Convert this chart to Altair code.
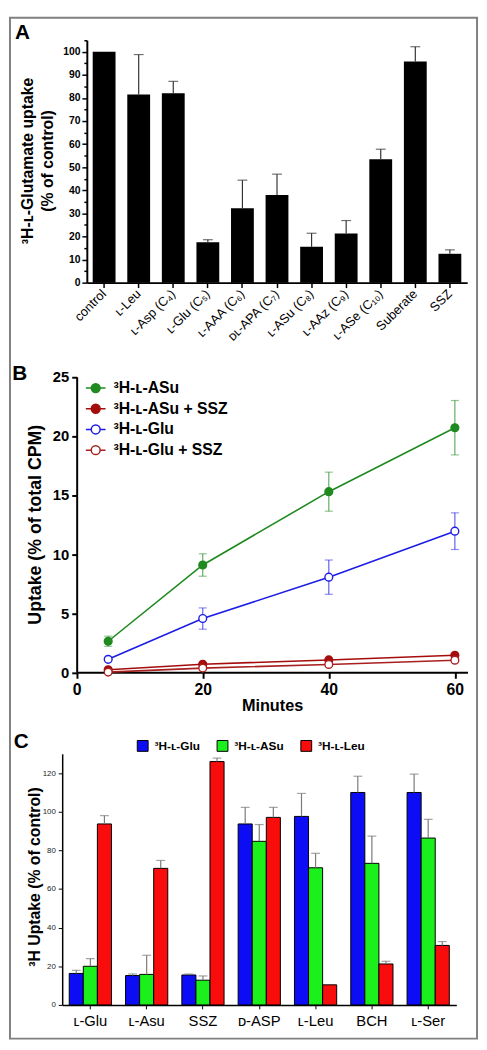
import altair as alt
import pandas as pd

FONT = "Liberation Sans, Arial, Helvetica, sans-serif"

# ---------------- Panel A data ----------------
a_categories = ["control", "ʟ-Leu", "ʟ-Asp (C₄)", "ʟ-Glu (C₅)", "ʟ-AAA (C₆)",
                "ᴅʟ-APA (C₇)", "ʟ-ASu (C₈)", "ʟ-AAz (C₉)", "ʟ-ASe (C₁₀)",
                "Suberate", "SSZ"]
a_values = [100, 81.5, 82, 17.5, 32.2, 38, 15.5, 21.3, 53.5, 95.8, 12.5]
a_upper = [None, 98.8, 87.2, 18.6, 44.4, 47, 21.4, 26.9, 57.8, 102.2, 14.2]

# ---------------- Panel B data ----------------
b_minutes = [5, 20, 40, 60]
b_series = ["³H-ʟ-ASu", "³H-ʟ-ASu + SSZ", "³H-ʟ-Glu", "³H-ʟ-Glu + SSZ"]
b_asu = [2.63, 9.08, 15.28, 20.69]
b_asu_err = [0.43, 0.95, 1.65, 2.3]
b_asu_ssz = [0.22, 0.69, 1.05, 1.44]
b_asu_ssz_err = [0, 0, 0, 0]
b_glu = [1.1, 4.55, 8.05, 11.94]
b_glu_err = [0, 0.9, 1.45, 1.55]
b_glu_ssz = [0.02, 0.36, 0.67, 1.03]
b_glu_ssz_err = [0, 0, 0, 0]
b_stroke_colors = ["#1f8a1f", "#a50d0d", "#1c1ce6", "#a82020"]
b_fill_colors = ["#1f8a1f", "#a50d0d", "#ffffff", "#ffffff"]

# ---------------- Panel C data ----------------
c_groups = ["ʟ-Glu", "ʟ-Asu", "SSZ", "ᴅ-ASP", "ʟ-Leu", "BCH", "ʟ-Ser"]
c_series = ["³H-ʟ-Glu", "³H-ʟ-ASu", "³H-ʟ-Leu"]
c_glu = [16.3, 15.2, 15.5, 93.7, 97.6, 110, 110]
c_glu_up = [17.9, 16, 16, 102.3, 109.5, 118.4, 119.5]
c_asu = [20, 15.8, 12.8, 84.7, 71, 73.3, 86.4]
c_asu_up = [24, 25.7, 15, 93.4, 78.5, 87.4, 96.1]
c_leu = [93.7, 70.7, 126, 97.1, 10.4, 21.2, 30.8]
c_leu_up = [98, 74.8, 127.8, 102.3, None, 22.6, 32.8]
c_colors = ["#0c0cf5", "#1cf01c", "#f80c0c"]

# ================= Panel A =================
dfA = pd.DataFrame({"cat": a_categories, "val": a_values, "up": a_upper})
xA = alt.X("cat:N", sort=a_categories, title=None,
           scale=alt.Scale(range=[25, 411], paddingInner=0.34, paddingOuter=0.17),
           axis=alt.Axis(labelAngle=315, labelAlign="right", labelBaseline="middle",
                         labelFontSize=13, labelColor="black", labelPadding=4,
                         labelLimit=300, domainColor="black", domainWidth=2,
                         tickColor="black", tickWidth=1.5, tickSize=5))
yA_scale = alt.Scale(domain=[0, 105], nice=False)

barsA = alt.Chart(dfA).mark_bar(color="black").encode(
    x=xA,
    y=alt.Y("val:Q", scale=yA_scale,
            axis=alt.Axis(orient="left", offset=-25, values=list(range(0, 101, 10)),
                          labelFontSize=10.5, labelFontWeight="bold", labelColor="black",
                          labelPadding=2, tickSize=5, tickWidth=1.5, tickColor="black",
                          domainWidth=2, domainColor="black",
                          title=["³H-ʟ-Glutamate uptake", "(% of control)"],
                          titleFontSize=16, titleFontWeight="bold", titleColor="black",
                          titleAngle=270, titleBaseline="middle", titleAlign="center",
                          titleX=-60, titleY=122, titleLineHeight=20)),
)
errA = alt.Chart(dfA).transform_filter("isValid(datum.up)").mark_rule(
    color="#333333", strokeWidth=1.2).encode(
    x=xA,
    y=alt.Y("val:Q", scale=yA_scale,
            axis=alt.Axis(orient="left", offset=-25, values=list(range(5, 106, 10)),
                          labels=False, domain=False, tickSize=3, tickWidth=1.5,
                          tickColor="black", title=None)),
    y2="up:Q",
)
capsA = alt.Chart(dfA).transform_filter("isValid(datum.up)").mark_tick(
    color="#333333", size=10, thickness=1.2, orient="horizontal").encode(
    x=xA, y=alt.Y("up:Q", scale=yA_scale, axis=None))

border = alt.Chart(pd.DataFrame({"b": [0]})).mark_rect(
    fill="transparent", stroke="#808080", strokeWidth=2).encode(
    x=alt.value(-53), x2=alt.value(421), y=alt.value(-22.8), y2=alt.value(1013.2))

labA = alt.Chart(pd.DataFrame({"t": ["A"]})).mark_text(
    font=FONT, fontSize=21, fontWeight="bold", color="black", align="center",
    baseline="middle").encode(text="t:N", x=alt.value(-40.3), y=alt.value(-6.8))

panelA = alt.layer(border, barsA, errA, capsA, labA).resolve_axis(
    y="independent").properties(width=411, height=246)

# ================= Panel B =================
rowsB = []
for s, vals, errs in zip(b_series, [b_asu, b_asu_ssz, b_glu, b_glu_ssz],
                         [b_asu_err, b_asu_ssz_err, b_glu_err, b_glu_ssz_err]):
    for m, v, e in zip(b_minutes, vals, errs):
        rowsB.append({"series": s, "min": m, "val": v, "err": e,
                      "lo": v - e, "hi": v + e})
dfB = pd.DataFrame(rowsB)

xB = alt.X("min:Q", scale=alt.Scale(domain=[0, 62], range=[14.7, 411.3], nice=False),
           axis=alt.Axis(values=[0, 20, 40, 60], labelFontSize=16, labelFontWeight="bold",
                         labelColor="black", labelPadding=3, labelFlush=False,
                         tickSize=6, tickWidth=2, tickColor="black",
                         domainWidth=2, domainColor="black",
                         title="Minutes", titleFontSize=16.5, titleFontWeight="bold",
                         titleColor="black", titleX=213, titleY=33.7,
                         titleBaseline="middle", titleAlign="center"))
yB_scale = alt.Scale(domain=[0, 25], range=[395.5, 95.5], nice=False)
yB = alt.Y("val:Q", scale=yB_scale,
           axis=alt.Axis(orient="left", offset=-14.7, values=[0, 5, 10, 15, 20, 25],
                         labelFontSize=15, labelFontWeight="bold", labelColor="black",
                         labelPadding=3, tickSize=5, tickWidth=2, tickColor="black",
                         domainWidth=2, domainColor="black",
                         title="Uptake (% of total CPM)", titleFontSize=18,
                         titleFontWeight="bold", titleColor="black", titleAngle=270,
                         titleBaseline="middle", titleAlign="center",
                         titleX=-41.7, titleY=245.2))
strokeScaleB = alt.Scale(domain=b_series, range=b_stroke_colors)
fillScaleB = alt.Scale(domain=b_series, range=b_fill_colors)

legB = alt.Legend(
    title=None, orient="none", legendX=23, legendY=96, direction="vertical",
    symbolType="M-1,0H-0.45M0.45,0H1M-0.45,0A0.45,0.45,0,1,0,0.45,0A0.45,0.45,0,1,0,-0.45,0Z",
    symbolSize=400, symbolStrokeWidth=1.5, symbolOpacity=1, labelFont=FONT,
    labelFontSize=16, labelFontWeight="bold", labelColor="black", labelOffset=7,
    rowPadding=2, padding=0, labelLimit=300)

lineB = alt.Chart(dfB).mark_line(strokeWidth=1.6).encode(
    x=xB, y=yB,
    stroke=alt.Stroke("series:N", sort=b_series, scale=strokeScaleB, legend=None))
dfBerr = dfB[dfB["err"] > 0]
errB = alt.Chart(dfBerr).mark_rule(strokeWidth=1.2, strokeOpacity=0.7).encode(
    x=xB, y=alt.Y("lo:Q", scale=yB_scale, axis=None), y2="hi:Q",
    stroke=alt.Stroke("series:N", sort=b_series, scale=strokeScaleB, legend=None))
capsB = alt.Chart(dfBerr).transform_fold(["lo", "hi"], as_=["k", "cap"]).mark_tick(
    orient="horizontal", size=7, thickness=0.01, filled=False, strokeWidth=1.2,
    strokeOpacity=0.7).encode(
    x=xB, y=alt.Y("cap:Q", scale=yB_scale, axis=None),
    stroke=alt.Stroke("series:N", sort=b_series, scale=strokeScaleB, legend=None))
pointsB = alt.Chart(dfB).mark_point(shape="circle", size=62, strokeWidth=1.4,
                                    opacity=1).encode(
    x=xB, y=alt.Y("val:Q", scale=yB_scale, axis=None),
    stroke=alt.Stroke("series:N", sort=b_series, scale=strokeScaleB, legend=legB),
    fill=alt.Fill("series:N", sort=b_series, scale=fillScaleB, legend=legB))
labB = alt.Chart(pd.DataFrame({"t": ["B"]})).mark_text(
    font=FONT, fontSize=21, fontWeight="bold", color="black", align="center",
    baseline="middle").encode(text="t:N", x=alt.value(-43), y=alt.value(93.2))

panelB = alt.layer(lineB, errB, capsB, pointsB, labB).resolve_axis(
    y="independent").resolve_legend(stroke="independent", fill="independent").properties(
    width=412, height=395.5)

# ================= Panel C =================
rowsC = []
for s, vals, ups in zip(c_series, [c_glu, c_asu, c_leu], [c_glu_up, c_asu_up, c_leu_up]):
    for g, v, u in zip(c_groups, vals, ups):
        rowsC.append({"grp": g, "series": s, "val": v, "up": u})
dfC = pd.DataFrame(rowsC)

xC = alt.X("grp:N", sort=c_groups, title=None,
           scale=alt.Scale(paddingInner=0.25, paddingOuter=0.125),
           axis=alt.Axis(labelAngle=0, labelFontSize=15, labelColor="black",
                         labelPadding=5, tickSize=4, tickColor="black", tickWidth=1,
                         domainColor="black", domainWidth=1.5))
xOffC = alt.XOffset("series:N", sort=c_series,
                    scale=alt.Scale(paddingInner=0, paddingOuter=0))
yC_scale = alt.Scale(domain=[0, 130], range=[337, 82.2], nice=False)

legC = alt.Legend(title=None, orient="none", direction="horizontal", legendX=75.7,
                  legendY=67.9, symbolType="square", symbolSize=121,
                  symbolStrokeColor="black", symbolStrokeWidth=1, labelFont=FONT,
                  labelFontSize=12, labelFontWeight="bold", labelColor="black",
                  labelOffset=6, columnPadding=14, padding=0)

barsC = alt.Chart(dfC).mark_bar(stroke="black", strokeWidth=1).encode(
    x=xC, xOffset=xOffC,
    y=alt.Y("val:Q", scale=yC_scale,
            axis=alt.Axis(orient="left", values=list(range(0, 121, 20)),
                          labelFontSize=8, labelColor="#222222", labelPadding=3,
                          tickSize=4, tickWidth=1, tickColor="black",
                          domainWidth=1.5, domainColor="black",
                          title="³H Uptake (% of control)", titleFontSize=16,
                          titleFontWeight="bold", titleColor="black", titleAngle=270,
                          titleBaseline="middle", titleAlign="center",
                          titleX=-28.5, titleY=206.7)),
    color=alt.Color("series:N", sort=c_series,
                    scale=alt.Scale(domain=c_series, range=c_colors), legend=legC))
errC = alt.Chart(dfC).transform_filter("isValid(datum.up)").mark_rule(
    color="#7a7a7a", strokeWidth=1.2).encode(
    x=xC, xOffset=xOffC, y=alt.Y("val:Q", scale=yC_scale, axis=None), y2="up:Q")
capsC = alt.Chart(dfC).transform_filter("isValid(datum.up)").mark_tick(
    color="#7a7a7a", size=9, thickness=1.2, orient="horizontal").encode(
    x=xC, xOffset=xOffC, y=alt.Y("up:Q", scale=yC_scale, axis=None))
labC = alt.Chart(pd.DataFrame({"t": ["C"]})).mark_text(
    font=FONT, fontSize=21, fontWeight="bold", color="black", align="center",
    baseline="middle").encode(text="t:N", x=alt.value(-41.5), y=alt.value(70.7))

panelC = alt.layer(barsC, errC, capsC, labC).resolve_axis(y="independent").properties(
    width=400, height=337)

chart = alt.vconcat(panelA, panelB, panelC, spacing=0, bounds="flush").resolve_legend(
    stroke="independent", fill="independent", color="independent").properties(
    padding=0).configure(font=FONT).configure_view(stroke="transparent").configure_axis(
    grid=False)

chart.save("out.html", embed_options={"renderer": "svg", "actions": False})
